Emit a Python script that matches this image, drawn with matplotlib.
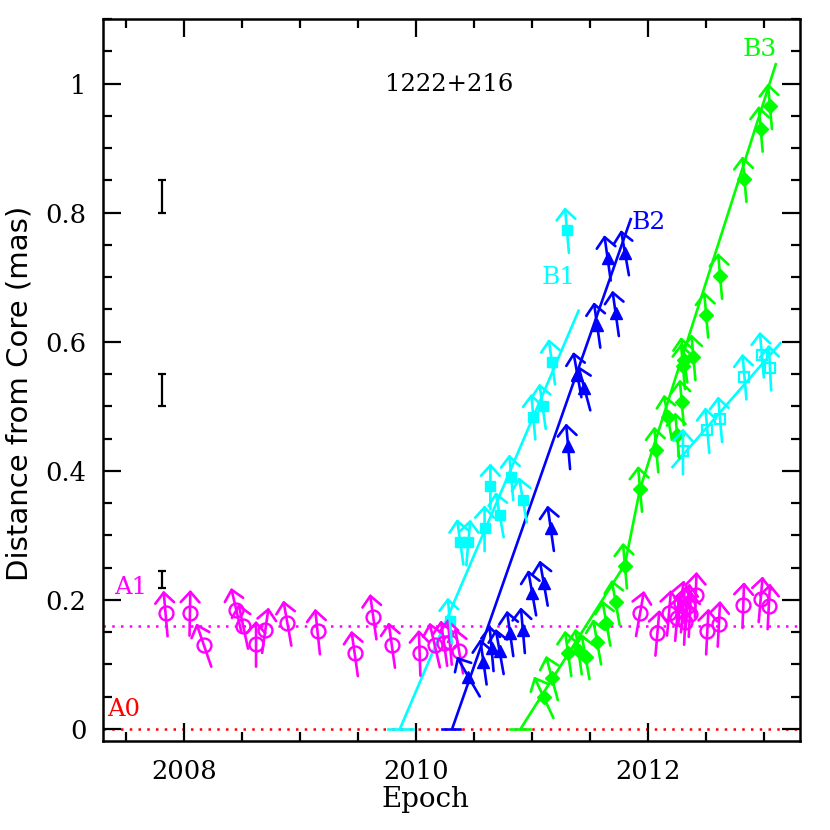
import matplotlib
matplotlib.use("Agg")
import matplotlib.pyplot as plt
from matplotlib.ticker import MultipleLocator, FuncFormatter
from matplotlib.transforms import offset_copy
import numpy as np

# A1 stationary component (open circles): epoch, distance (mas), vector angle (deg from up, + = clockwise)
a1_epoch = [2007.84, 2008.05, 2008.17, 2008.45, 2008.51, 2008.62, 2008.70, 2008.89,
            2009.15, 2009.47, 2009.63, 2009.79, 2010.03, 2010.16, 2010.24, 2010.29,
            2010.37, 2011.93, 2012.08, 2012.18, 2012.25, 2012.28, 2012.30, 2012.32,
            2012.34, 2012.36, 2012.41, 2012.51, 2012.61, 2012.82, 2012.97, 2013.04]
a1_dist = [0.179, 0.180, 0.130, 0.184, 0.159, 0.132, 0.153, 0.164,
           0.151, 0.117, 0.174, 0.130, 0.118, 0.130, 0.133, 0.135,
           0.121, 0.179, 0.149, 0.180, 0.172, 0.195, 0.185, 0.166,
           0.190, 0.178, 0.208, 0.151, 0.163, 0.192, 0.201, 0.190]
a1_ang = [-5, 1, -19, -13, -12, 0, 8, -10,
          -6, -8, -8, -8, -2, -13, -8, -5,
          -10, 10, 5, 5, 5, 8, 5, 3,
          5, 3, 2, 3, 3, 2, 5, 3]

# B1 (filled squares)
b1_epoch = [2010.29, 2010.38, 2010.45, 2010.59, 2010.64, 2010.72, 2010.82, 2010.92,
            2011.01, 2011.09, 2011.17, 2011.30]
b1_dist = [0.168, 0.290, 0.289, 0.311, 0.376, 0.332, 0.390, 0.355,
           0.484, 0.500, 0.569, 0.773]
b1_ang = [-5, -8, 5, 0, 0, -10, -5, -10, -5, -8, -8, -5]

# B2 (filled triangles)
b2_epoch = [2010.45, 2010.58, 2010.65, 2010.72, 2010.81, 2010.92, 2011.00, 2011.10,
            2011.16, 2011.31, 2011.39, 2011.45, 2011.56, 2011.65, 2011.72, 2011.80]
b2_dist = [0.081, 0.104, 0.125, 0.120, 0.148, 0.153, 0.211, 0.226,
           0.311, 0.438, 0.549, 0.528, 0.626, 0.730, 0.644, 0.738]
b2_ang = [-30, -8, -5, -10, -8, -5, -10, -10, -8, -5, -10, -15, -8, -8, -8, -10]

# B3 (filled diamonds)
b3_epoch = [2011.10, 2011.17, 2011.31, 2011.40, 2011.46, 2011.56, 2011.64, 2011.72,
            2011.80, 2011.93, 2012.07, 2012.17, 2012.25, 2012.29, 2012.30, 2012.31,
            2012.39, 2012.50, 2012.62, 2012.83, 2012.97, 2013.05]
b3_dist = [0.049, 0.079, 0.117, 0.120, 0.112, 0.135, 0.164, 0.196,
           0.253, 0.372, 0.433, 0.483, 0.455, 0.506, 0.562, 0.572,
           0.576, 0.642, 0.702, 0.852, 0.930, 0.965]
b3_ang = [-25, -15, -8, -8, -10, -10, -10, -10, -5, -5, -5, -10, -5, -5, -5, -8,
          -5, -5, -5, -5, -5, -5]

# B1 at later epochs (open squares)
b1b_epoch = [2012.30, 2012.51, 2012.62, 2012.83, 2012.98, 2013.05]
b1b_dist = [0.430, 0.463, 0.480, 0.546, 0.580, 0.560]
b1b_ang = [0, -5, -5, -5, -5, -3]

# fitted motions (polylines) and ejection epoch ranges
fit_b1 = ([2009.86, 2011.40], [0.0, 0.648])
fit_b2 = ([2010.31, 2011.85], [0.0, 0.79])
fit_b3 = ([2010.90, 2011.80, 2011.93, 2013.10], [0.0, 0.255, 0.372, 1.03])
fit_b1b = ([2012.21, 2013.14], [0.406, 0.598])
eject_b1 = [2009.76, 2009.97]
eject_b2 = [2010.22, 2010.38]
eject_b3 = [2010.81, 2010.98]

# representative error bars
err_epoch = 2007.81
err_lo = [0.219, 0.50, 0.80]
err_hi = [0.245, 0.55, 0.85]

a0_level = 0.0
a1_level = 0.16

MAGENTA = "#ff00ff"
CYAN = "#00ffff"
BLUE = "#0000ff"
GREEN = "#00ff00"
RED = "#ff0000"

fig = plt.figure(figsize=(8.3, 8.3), dpi=100)
ax = fig.add_axes([0.124, 0.107, 0.840, 0.870])
ax.set_xlim(2007.30, 2013.31)
ax.set_ylim(-0.019, 1.10)

HALF = 16.5  # half-length of vectors, points


def vectors(xs, ys, angs, color):
    for x, y, a in zip(xs, ys, angs):
        r = np.radians(a)
        dx, dy = HALF * np.sin(r), HALF * np.cos(r)
        head = offset_copy(ax.transData, fig=fig, x=dx, y=dy, units="points")
        tail = offset_copy(ax.transData, fig=fig, x=-dx, y=-dy, units="points")
        ax.annotate("", xy=(x, y), xycoords=head, xytext=(x, y), textcoords=tail,
                    arrowprops=dict(arrowstyle="->,head_length=0.5,head_width=0.45",
                                    color=color, lw=1.9, shrinkA=0, shrinkB=0,
                                    mutation_scale=15))


ax.axhline(a0_level, color=RED, ls=(0, (1, 2.5)), lw=1.8, zorder=1)
ax.axhline(a1_level, color=MAGENTA, ls=(0, (1, 2.5)), lw=1.8, zorder=1)

for (fx, fy), ej, c in [(fit_b1, eject_b1, CYAN), (fit_b2, eject_b2, BLUE),
                        (fit_b3, eject_b3, GREEN), (fit_b1b, None, CYAN)]:
    ax.plot(fx, fy, color=c, lw=1.9)
    if ej is not None:
        ax.plot(ej, [0, 0], color=c, lw=1.9)

vectors(a1_epoch, a1_dist, a1_ang, MAGENTA)
ax.plot(a1_epoch, a1_dist, "o", ms=10, mfc="none", mec=MAGENTA, mew=1.7, ls="none")

vectors(b1_epoch, b1_dist, b1_ang, CYAN)
ax.plot(b1_epoch, b1_dist, "s", ms=7, color=CYAN, ls="none")

vectors(b2_epoch, b2_dist, b2_ang, BLUE)
ax.plot(b2_epoch, b2_dist, "^", ms=9, color=BLUE, ls="none")

vectors(b3_epoch, b3_dist, b3_ang, GREEN)
ax.plot(b3_epoch, b3_dist, "D", ms=7.5, color=GREEN, ls="none")

vectors(b1b_epoch, b1b_dist, b1b_ang, CYAN)
ax.plot(b1b_epoch, b1b_dist, "s", ms=7.5, mfc="none", mec=CYAN, mew=1.6, ls="none")

for lo, hi in zip(err_lo, err_hi):
    ax.errorbar([err_epoch], [(lo + hi) / 2], yerr=[(hi - lo) / 2], fmt="none",
                ecolor="black", elinewidth=1.6, capsize=3, capthick=1.6)

serif = "DejaVu Serif"
ax.text(2009.73, 0.998, "1222+216", fontsize=17.5, family=serif, va="center")
ax.text(2011.08, 0.70, "B1", fontsize=18, family=serif, color=CYAN, va="center")
ax.text(2011.86, 0.785, "B2", fontsize=18, family=serif, color=BLUE, va="center")
ax.text(2012.81, 1.053, "B3", fontsize=18, family=serif, color=GREEN, va="center")
ax.text(2007.40, 0.219, "A1", fontsize=17.5, family=serif, color=MAGENTA, va="center")
ax.text(2007.34, 0.030, "A0", fontsize=17.5, family=serif, color=RED, va="center")

ax.xaxis.set_major_locator(MultipleLocator(2))
ax.xaxis.set_minor_locator(MultipleLocator(0.5))
ax.yaxis.set_major_locator(MultipleLocator(0.2))
ax.yaxis.set_minor_locator(MultipleLocator(0.05))
ax.yaxis.set_major_formatter(FuncFormatter(lambda v, p: "%g" % round(v, 2)))
ax.xaxis.set_major_formatter(FuncFormatter(lambda v, p: "%d" % round(v)))
ax.tick_params(which="both", direction="in", top=True, right=True, width=1.6,
               labelsize=18.5)
ax.tick_params(axis="y", pad=12)
ax.tick_params(axis="x", pad=13)
ax.tick_params(which="major", length=13)
ax.tick_params(which="minor", length=6.5)
for lab in ax.get_xticklabels() + ax.get_yticklabels():
    lab.set_family(serif)
for s in ax.spines.values():
    s.set_linewidth(1.8)

ax.set_xlabel("Epoch", fontsize=20, family=serif)
ax.xaxis.set_label_coords(0.462, -0.062)
ax.set_ylabel("Distance from Core (mas)", fontsize=21, family="DejaVu Sans")
ax.yaxis.set_label_coords(-0.100, 0.482)

fig.savefig("out.png", dpi=100)
